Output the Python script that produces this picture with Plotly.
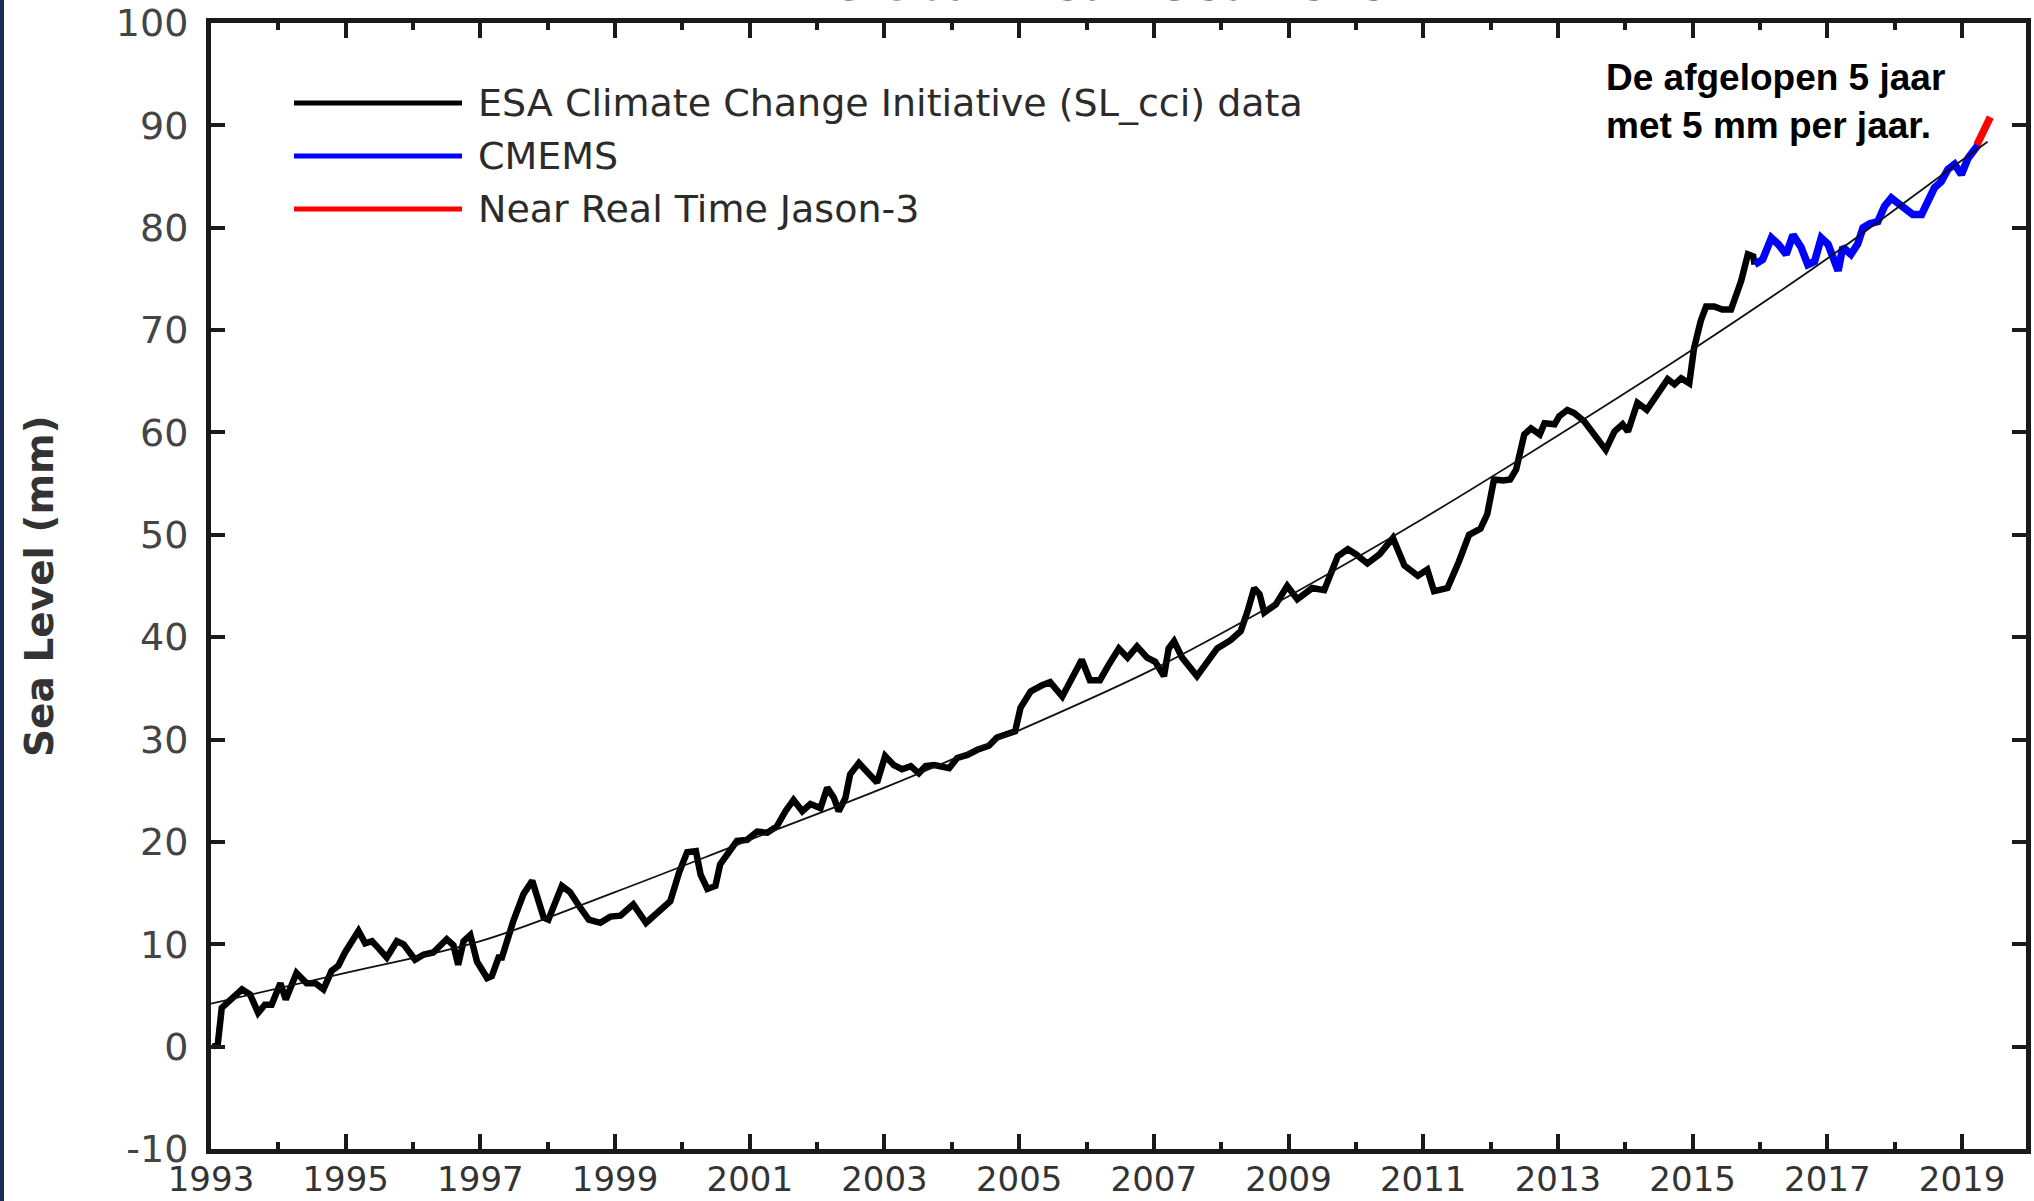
import plotly.graph_objects as go

# ESA SL_cci (black)
esa_years = [1993.03, 1993.10, 1993.16, 1993.26, 1993.46, 1993.58, 1993.70, 1993.80, 1993.90,
             1994.03, 1994.11, 1994.27, 1994.42, 1994.55, 1994.67, 1994.79, 1994.89, 1994.99,
             1995.09, 1995.19, 1995.29, 1995.39, 1995.49, 1995.61, 1995.76, 1995.86,
             1996.03, 1996.16, 1996.30, 1996.50, 1996.60, 1996.67, 1996.75, 1996.85, 1996.95,
             1997.10, 1997.17, 1997.27, 1997.32, 1997.49, 1997.64, 1997.77, 1997.94,
             1998.01, 1998.21, 1998.33, 1998.48, 1998.61, 1998.78, 1998.93,
             1999.08, 1999.27, 1999.46, 1999.66, 1999.82, 1999.95,
             2000.07, 2000.20, 2000.27, 2000.37, 2000.49, 2000.56, 2000.69, 2000.81, 2000.96,
             2001.11, 2001.26, 2001.40, 2001.53, 2001.65, 2001.78, 2001.90,
             2002.05, 2002.15, 2002.25, 2002.32, 2002.42, 2002.49, 2002.62, 2002.74, 2002.89,
             2003.01, 2003.14, 2003.26, 2003.39, 2003.51, 2003.61, 2003.74, 2003.96,
             2004.08, 2004.23, 2004.38, 2004.55, 2004.67, 2004.82, 2004.94,
             2005.02, 2005.17, 2005.34, 2005.46, 2005.64, 2005.79, 2005.93,
             2006.05, 2006.20, 2006.32, 2006.48, 2006.61, 2006.75, 2006.90,
             2007.02, 2007.15, 2007.22, 2007.30, 2007.42, 2007.64, 2007.79, 2007.94,
             2008.14, 2008.29, 2008.39, 2008.49, 2008.57, 2008.64, 2008.81, 2008.98,
             2009.13, 2009.23, 2009.35, 2009.53, 2009.63, 2009.73, 2009.88,
             2010.00, 2010.17, 2010.35, 2010.55, 2010.72, 2010.92,
             2011.06, 2011.16, 2011.36, 2011.53, 2011.68, 2011.85, 2011.95,
             2012.05, 2012.19, 2012.29, 2012.38, 2012.50, 2012.60, 2012.73, 2012.80, 2012.95,
             2013.02, 2013.14, 2013.24, 2013.39, 2013.54, 2013.71, 2013.84, 2013.96,
             2014.04, 2014.18, 2014.32, 2014.48, 2014.63, 2014.73, 2014.83, 2014.95,
             2015.02, 2015.12, 2015.20, 2015.32, 2015.44, 2015.57, 2015.62, 2015.72, 2015.82,
             2015.90, 2015.92]
esa_mm = [0.0, 0.2, 3.8, 4.4, 5.6, 5.1, 3.3, 4.1, 4.1,
          6.2, 4.6, 7.2, 6.2, 6.2, 5.6, 7.4, 7.9, 9.2,
          10.3, 11.3, 10.1, 10.3, 9.6, 8.7, 10.3, 10.0,
          8.5, 9.0, 9.2, 10.5, 9.9, 8.0, 10.3, 10.9, 8.3,
          6.7, 6.9, 8.7, 8.7, 12.3, 14.9, 16.2, 12.6,
          12.4, 15.7, 15.1, 13.6, 12.4, 12.1, 12.7,
          12.8, 13.9, 12.1, 13.2, 14.2, 17.0,
          19.0, 19.1, 16.8, 15.4, 15.7, 17.8, 19.1, 20.1, 20.2,
          21.0, 20.9, 21.5, 23.0, 24.1, 23.0, 23.7,
          23.3, 25.3, 24.3, 23.0, 24.3, 26.6, 27.7, 26.9, 25.8,
          28.4, 27.5, 27.1, 27.4, 26.7, 27.4, 27.5, 27.2,
          28.2, 28.5, 29.0, 29.4, 30.2, 30.6, 30.8,
          33.1, 34.7, 35.3, 35.6, 34.2, 36.1, 37.8,
          35.8, 35.8, 37.2, 38.9, 38.0, 39.1, 38.0,
          37.6, 36.2, 38.9, 39.6, 38.0, 36.2, 37.6, 38.9,
          39.7, 40.6, 42.5, 44.8, 44.2, 42.4, 43.2, 45.0,
          43.7, 44.2, 44.8, 44.6, 46.1, 47.9, 48.6,
          48.1, 47.2, 48.1, 49.7, 47.0, 46.0,
          46.6, 44.5, 44.8, 47.4, 50.0, 50.6, 52.0,
          55.4, 55.3, 55.4, 56.4, 59.8, 60.4, 59.8, 60.9, 60.8,
          61.6, 62.2, 61.9, 61.1, 59.8, 58.3, 60.1, 60.8,
          60.1, 62.9, 62.2, 63.7, 65.2, 64.7, 65.3, 64.8,
          68.2, 70.9, 72.3, 72.3, 72.0, 72.0, 73.0, 74.8, 77.4,
          77.2, 76.4]

# CMEMS (blue)
cmems_years = [2015.92, 2016.04, 2016.17, 2016.27, 2016.39, 2016.49, 2016.61, 2016.71, 2016.81,
               2016.91, 2017.01, 2017.08, 2017.16, 2017.23, 2017.35, 2017.45, 2017.53, 2017.63,
               2017.75, 2017.85, 2017.95, 2018.05, 2018.15, 2018.27, 2018.40, 2018.49, 2018.59,
               2018.69, 2018.79, 2018.89, 2018.99, 2019.09, 2019.19, 2019.24]
cmems_mm = [76.4, 76.9, 79.0, 78.4, 77.4, 79.3, 78.1, 76.4, 76.7,
            79.0, 78.4, 77.1, 75.8, 78.1, 77.4, 78.4, 80.0, 80.4,
            80.6, 82.1, 82.9, 82.4, 81.8, 81.3, 81.3, 82.4, 83.9,
            84.5, 85.7, 86.2, 85.2, 86.8, 87.5, 88.1]

# Near Real Time Jason-3 (red)
nrt_years = [2019.22, 2019.32, 2019.42]
nrt_mm = [88.1, 89.4, 90.8]

# fitted trend (thin black)
trend_years = [1993.0, 1995.0, 1997.0, 1999.0, 2001.0, 2003.0, 2005.0, 2007.0,
               2009.0, 2011.0, 2013.0, 2015.0, 2017.0, 2019.0, 2019.38]
trend_mm = [4.2, 7.2, 10.3, 15.1, 20.2, 25.3, 30.9, 36.9,
            44.0, 51.6, 59.7, 68.1, 77.0, 86.6, 88.4]

x_ticks = [1993, 1995, 1997, 1999, 2001, 2003, 2005, 2007, 2009, 2011, 2013, 2015, 2017, 2019]
y_ticks = [-10, 0, 10, 20, 30, 40, 50, 60, 70, 80, 90, 100]
y_ticklabels = ["-10", "0", "10", "20", "30", "40", "50", "60", "70", "80", "90", "100"]

legend_names = ["ESA Climate Change Initiative (SL_cci) data", "CMEMS", "Near Real Time Jason-3"]
legend_colors = ["#000000", "#0000ff", "#ff0000"]

W, H = 2034, 1201
L, R, T, B = 211, 8, 23, 52
PW, PH = W - L - R, H - T - B


def px(x):
    return (x - L) / PW


def py(y):
    return (H - B - y) / PH


fig = go.Figure()
fig.add_trace(go.Scatter(x=esa_years, y=esa_mm, mode="lines",
                         line=dict(color="#000000", width=6.5)))
fig.add_trace(go.Scatter(x=cmems_years, y=cmems_mm, mode="lines",
                         line=dict(color="#0000ff", width=7.5)))
fig.add_trace(go.Scatter(x=nrt_years, y=nrt_mm, mode="lines",
                         line=dict(color="#ff0000", width=7.5)))
fig.add_trace(go.Scatter(x=trend_years, y=trend_mm, mode="lines", line_shape="spline",
                         line=dict(color="#111111", width=1.8)))

shapes = []
annotations = []
# hand-made legend
for i, (name, col) in enumerate(zip(legend_names, legend_colors)):
    yy = py(103 + i * 53)
    shapes.append(dict(type="line", xref="paper", yref="paper",
                       x0=px(294), x1=px(462), y0=yy, y1=yy,
                       line=dict(color=col, width=5)))
    annotations.append(dict(text=name, xref="paper", yref="paper", x=px(476), y=yy,
                            xanchor="left", yanchor="middle", showarrow=False,
                            font=dict(family="DejaVu Sans", size=38, color="#2b2b2b")))

# navy strip on the left edge
shapes.append(dict(type="rect", xref="paper", yref="paper",
                   x0=px(0), x1=px(4), y0=py(H), y1=py(0),
                   fillcolor="#1c2c58", line=dict(width=0), layer="above"))

annotations.append(dict(text="De afgelopen 5 jaar<br>met 5 mm per jaar.",
                        xref="paper", yref="paper", x=px(1604), y=py(55),
                        xanchor="left", yanchor="top", align="left", showarrow=False,
                        font=dict(family="Liberation Sans", size=37, color="#000000",
                                  weight="bold")))
annotations.append(dict(text="<b>Global Mean Sea Level</b>", xref="paper", yref="paper",
                        x=px(1116), y=py(13), xanchor="center", yanchor="bottom",
                        showarrow=False,
                        font=dict(family="DejaVu Sans", size=45, color="#222222")))
annotations.append(dict(text="<b>Sea Level (mm)</b>", xref="paper", yref="paper",
                        x=px(39), y=py(587), xanchor="center", yanchor="middle",
                        textangle=-90, showarrow=False,
                        font=dict(family="DejaVu Sans", size=39, color="#333333")))

fig.update_layout(
    width=W, height=H,
    margin=dict(l=L, r=R, t=T, b=B, autoexpand=False),
    plot_bgcolor="white", paper_bgcolor="white",
    showlegend=False,
    shapes=shapes, annotations=annotations,
)
fig.update_xaxes(
    range=[1993, 2019.95], tickmode="array", tickvals=x_ticks, automargin=False,
    ticks="inside", ticklen=15, tickwidth=4, tickcolor="#1a1a1a",
    minor=dict(ticks="inside", ticklen=7, tickwidth=4, dtick=1, tick0=1993,
               tickcolor="#1a1a1a"),
    showline=True, linewidth=5, linecolor="#1a1a1a", mirror="ticks",
    showgrid=False, zeroline=False, ticklabelstandoff=-4,
    tickfont=dict(family="DejaVu Sans", size=34, color="#333333"),
)
fig.update_yaxes(
    range=[-10, 100], tickmode="array", tickvals=y_ticks, ticktext=y_ticklabels,
    automargin=False,
    ticks="inside", ticklen=14, tickwidth=4, tickcolor="#1a1a1a",
    showline=True, linewidth=5, linecolor="#1a1a1a", mirror="ticks",
    showgrid=False, zeroline=False, ticklabelstandoff=10,
    tickfont=dict(family="DejaVu Sans", size=38, color="#444444"),
)

fig.write_html("out.html", config={"displayModeBar": False},
               post_script="document.body.style.margin='0';")
